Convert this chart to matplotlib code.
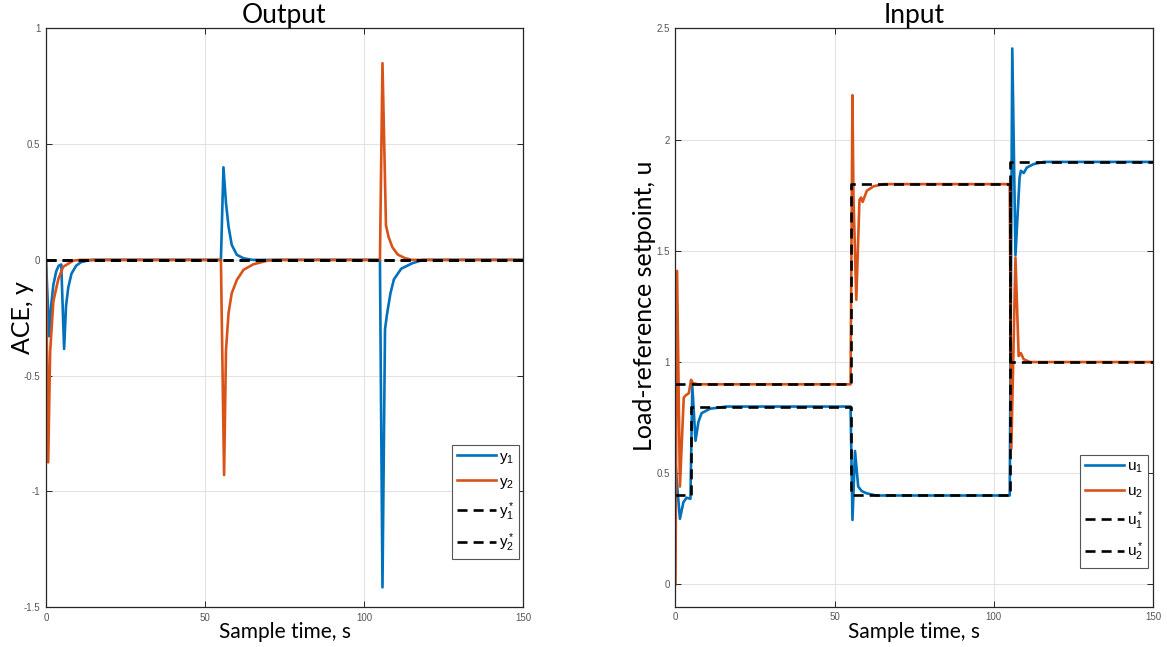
import matplotlib
matplotlib.use("Agg")
import matplotlib.pyplot as plt

# ---------------- data ----------------
# Output plot (ACE)
y1_t = [0, 1.0, 1.6, 2.3, 3.2, 4.0, 4.8, 5.7, 6.3, 7.0, 8.0, 9.5, 11, 13, 15,
        55.0, 55.8, 56.6, 57.4, 58.4, 60.0, 62.1, 65,
        105.0, 105.8, 106.6, 107.2, 108.3, 109.4, 111.7, 115.1, 118.5, 150]
y1_v = [0, -0.33, -0.2, -0.11, -0.05, -0.025, -0.02, -0.385, -0.2, -0.12, -0.06, -0.025, -0.01, -0.003, 0,
        0, 0.40, 0.245, 0.144, 0.065, 0.022, 0.007, 0,
        0, -1.415, -0.30, -0.237, -0.145, -0.084, -0.038, -0.015, 0, 0]

y2_t = [0, 0.7, 1.3, 2.3, 3.9, 5.4, 8.6, 11,
        55.0, 56.0, 56.6, 57.4, 58.4, 60.0, 62.1, 65.2, 69.4, 72,
        105.0, 105.8, 106.9, 107.7, 108.9, 110.6, 112.8, 115.1, 150]
y2_v = [0, -0.875, -0.40, -0.18, -0.082, -0.03, -0.003, 0,
        0, -0.93, -0.39, -0.23, -0.144, -0.087, -0.043, -0.019, -0.004, 0,
        0, 0.85, 0.149, 0.10, 0.055, 0.023, 0.008, 0, 0]

y1_ref_t = [0, 150]
y1_ref_v = [0, 0]
y2_ref_t = [0, 150]
y2_ref_v = [0, 0]

# Input plot (load-reference setpoint)
u1_t = [0, 0.5, 1.4, 2.5, 3.5, 4.7, 5.3, 6.3, 7.2, 8.2, 10.8, 16,
        55.0, 55.6, 56.4, 57.4, 58.5, 60, 63,
        105.0, 105.8, 106.8, 108.1, 108.5, 109.4, 110.4, 112.5, 115.7, 150]
u1_v = [0.55, 0.45, 0.295, 0.37, 0.39, 0.385, 0.89, 0.646, 0.73, 0.77, 0.79, 0.8,
        0.8, 0.29, 0.60, 0.44, 0.42, 0.41, 0.40,
        0.40, 2.41, 1.48, 1.83, 1.86, 1.85, 1.875, 1.89, 1.9, 1.9]

u2_t = [0, 0.5, 1.4, 2.6, 3.2, 4.2, 4.9, 5.5, 7,
        55.0, 55.6, 55.9, 56.8, 57.8, 58.3, 58.8, 60.1, 62.2, 65.3, 70,
        105.0, 105.5, 106.8, 107.8, 108.5, 109.4, 111.4, 150]
u2_v = [0, 1.41, 0.44, 0.84, 0.85, 0.86, 0.92, 0.905, 0.9,
        0.9, 2.2, 1.75, 1.28, 1.73, 1.74, 1.72, 1.77, 1.79, 1.80, 1.8,
        1.8, 0.61, 1.47, 1.027, 1.04, 1.012, 1.0, 1.0]

u1_ref_t = [0, 5, 55, 105, 150]
u1_ref_v = [0.4, 0.8, 0.4, 1.9, 1.9]
u2_ref_t = [0, 55, 105, 150]
u2_ref_v = [0.9, 1.8, 1.0, 1.0]

x_ticks = [0, 50, 100, 150]
left_yticks = [-1.5, -1, -0.5, 0, 0.5, 1]
left_ytick_labels = ["-1.5", "-1", "-0.5", "0", "0.5", "1"]
right_yticks = [0, 0.5, 1, 1.5, 2, 2.5]
right_ytick_labels = ["0", "0.5", "1", "1.5", "2", "2.5"]

# ---------------- style ----------------
BLUE = "#0072BD"
ORANGE = "#D95319"
AXC = "#262626"
TICKC = "#555555"
LABEL_FONT = "Lato"
TICK_FONT = "Liberation Sans"
DASH = (0, (3.8, 2.3))
LW = 1.9

plt.rcParams["font.family"] = ["Liberation Sans", "DejaVu Sans"]
plt.rcParams["mathtext.fontset"] = "custom"
plt.rcParams["mathtext.rm"] = "Liberation Sans"

fig = plt.figure(figsize=(11.67, 6.47), dpi=100)
axL = fig.add_axes([0.0394, 0.0618, 0.4088, 0.8942])
axR = fig.add_axes([0.5788, 0.0623, 0.4092, 0.8937])


def style_axes(ax, xlim, ylim, yticks, ylabels):
    ax.set_xlim(*xlim)
    ax.set_ylim(*ylim)
    ax.set_xticks(x_ticks)
    ax.set_xticklabels([str(v) for v in x_ticks])
    ax.set_yticks(yticks)
    ax.set_yticklabels(ylabels)
    ax.grid(True, color="#e3e3e3", linewidth=0.8)
    ax.set_axisbelow(True)
    for s in ax.spines.values():
        s.set_color(AXC)
        s.set_linewidth(0.9)
    ax.tick_params(direction="in", length=4, width=0.7, color=AXC,
                   top=True, right=True, labelsize=7, labelcolor=TICKC, pad=4)
    for lab in ax.get_xticklabels() + ax.get_yticklabels():
        lab.set_family(TICK_FONT)


# Left: Output
axL.plot(y1_t, y1_v, color=BLUE, lw=LW, label=r"$\mathregular{y_1}$")
axL.plot(y2_t, y2_v, color=ORANGE, lw=LW, label=r"$\mathregular{y_2}$")
axL.plot(y1_ref_t, y1_ref_v, color="black", lw=LW, ls=DASH, label=r"$\mathregular{y_1^*}$")
axL.plot(y2_ref_t, y2_ref_v, color="black", lw=LW, ls=DASH, label=r"$\mathregular{y_2^*}$")
style_axes(axL, (0, 150), (-1.5, 1), left_yticks, left_ytick_labels)
axL.set_title("Output", family=LABEL_FONT, fontsize=19, pad=4)
axL.set_xlabel("Sample time, s", family=LABEL_FONT, fontsize=15)
axL.set_ylabel("ACE, y", family=LABEL_FONT, fontsize=18)
axL.xaxis.set_label_coords(0.5, -0.026)
axL.yaxis.set_label_coords(-0.025, 0.5)

# Right: Input
axR.plot(u1_t, u1_v, color=BLUE, lw=LW, label=r"$\mathregular{u_1}$")
axR.plot(u2_t, u2_v, color=ORANGE, lw=LW, label=r"$\mathregular{u_2}$")
axR.step(u1_ref_t, u1_ref_v, where="post", color="black", lw=LW, ls=DASH, label=r"$\mathregular{u_1^*}$")
axR.step(u2_ref_t, u2_ref_v, where="post", color="black", lw=LW, ls=DASH, label=r"$\mathregular{u_2^*}$")
style_axes(axR, (0, 150), (-0.1, 2.5), right_yticks, right_ytick_labels)
axR.set_title("Input", family=LABEL_FONT, fontsize=19, pad=4)
axR.set_xlabel("Sample time, s", family=LABEL_FONT, fontsize=15)
axR.set_ylabel("Load-reference setpoint, u", family=LABEL_FONT, fontsize=18)
axR.xaxis.set_label_coords(0.5, -0.026)
axR.yaxis.set_label_coords(-0.04, 0.52)

for ax, anchor in ((axL, (0.851, 0.28)), (axR, (0.847, 0.262))):
    leg = ax.legend(loc="upper left", bbox_to_anchor=anchor, frameon=True,
                    fancybox=False, framealpha=1, edgecolor="#555555",
                    fontsize=11, handlelength=2.6, handletextpad=0.15,
                    labelspacing=0.6, borderpad=0.3, borderaxespad=0)
    leg.get_frame().set_linewidth(0.8)

fig.savefig("out.png", dpi=100)
